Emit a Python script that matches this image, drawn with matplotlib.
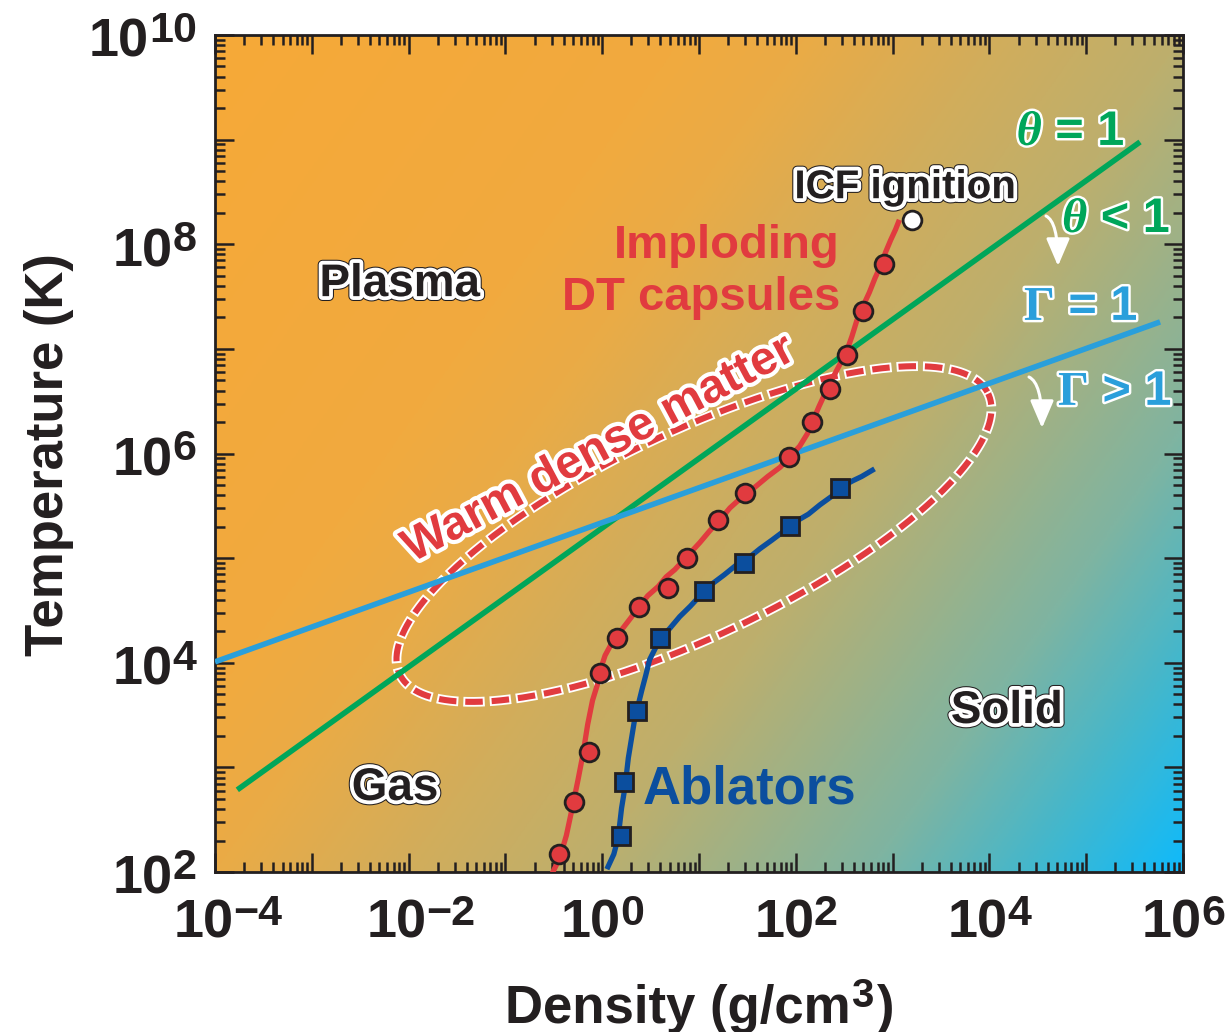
import numpy as np
import matplotlib
matplotlib.use("Agg")
import matplotlib.pyplot as plt
import matplotlib.patheffects as pe
from matplotlib.colors import LinearSegmentedColormap
from matplotlib.ticker import LogLocator, NullFormatter

plt.rcParams['font.family'] = ['Liberation Sans', 'DejaVu Sans']
plt.rcParams['font.weight'] = 'bold'
plt.rcParams['mathtext.fontset'] = 'custom'
plt.rcParams['mathtext.it'] = 'Liberation Serif:italic:bold'
plt.rcParams['mathtext.rm'] = 'Liberation Serif:bold'
plt.rcParams['lines.scale_dashes'] = False

INK = '#231F20'
RED = '#E13B3F'
GREEN = '#00A65A'
SKY = '#2A9FDB'
NAVY = '#0B4E9E'

# imploding DT capsule trajectory, log10(g/cm3) and log10(K)
dt_log_rho = [-0.51, -0.44, -0.37, -0.31, -0.25, -0.20, -0.15, -0.10, -0.05, -0.02,
              0.03, 0.10, 0.18, 0.28, 0.37, 0.47, 0.58, 0.66, 0.75, 0.82, 0.91,
              1.01, 1.11, 1.22, 1.32, 1.44, 1.58, 1.71, 1.84, 1.94, 2.04, 2.12,
              2.18, 2.24, 2.31, 2.38, 2.46, 2.53, 2.58, 2.63, 2.69, 2.76, 2.82,
              2.88, 2.93, 2.98, 3.03, 3.06]
dt_log_T = [2.00, 2.13, 2.35, 2.61, 2.88, 3.12, 3.41, 3.64, 3.79, 3.93,
            4.07, 4.19, 4.29, 4.41, 4.52, 4.64, 4.73, 4.82, 4.89, 4.96, 5.05,
            5.15, 5.26, 5.37, 5.48, 5.58, 5.68, 5.78, 5.87, 5.97, 6.07, 6.19,
            6.32, 6.45, 6.59, 6.72, 6.86, 6.99, 7.12, 7.27, 7.40, 7.54, 7.68,
            7.80, 7.93, 8.04, 8.14, 8.21]
dt_pts_log_rho = [-0.45, -0.29, -0.14, -0.02, 0.15, 0.38, 0.68, 0.88, 1.20, 1.48,
                  1.93, 2.17, 2.35, 2.53, 2.69, 2.91]
dt_pts_log_T = [2.17, 2.67, 3.15, 3.90, 4.24, 4.53, 4.71, 5.00, 5.36, 5.62,
                5.97, 6.30, 6.62, 6.94, 7.36, 7.81]
ignition_log = (3.20, 8.23)

# ablator trajectory
abl_log_rho = [0.06, 0.12, 0.16, 0.18, 0.20, 0.23, 0.25, 0.27, 0.30, 0.33, 0.37,
               0.41, 0.45, 0.49, 0.55, 0.62, 0.70, 0.80, 0.91, 1.01, 1.13, 1.26,
               1.38, 1.51, 1.63, 1.75, 1.88, 2.00, 2.13, 2.25, 2.37, 2.49, 2.59,
               2.68, 2.79]
abl_log_T = [2.05, 2.17, 2.31, 2.45, 2.61, 2.78, 2.93, 3.09, 3.26, 3.43, 3.59,
             3.74, 3.88, 4.03, 4.14, 4.25, 4.33, 4.44, 4.54, 4.64, 4.75, 4.84,
             4.93, 5.00, 5.09, 5.17, 5.26, 5.35, 5.42, 5.51, 5.59, 5.69, 5.74,
             5.78, 5.84]
abl_pts_log_rho = [0.19, 0.23, 0.36, 0.60, 1.05, 1.47, 1.94, 2.46]
abl_pts_log_T = [2.34, 2.86, 3.54, 4.24, 4.69, 4.95, 5.31, 5.67]

# degeneracy (theta = 1) and coupling (Gamma = 1) boundaries
theta_rho = [1.7e-4, 3.6e5]
theta_T = [6.1e2, 9.5e8]
gamma_rho = [1.0e-4, 5.8e5]
gamma_T = [1.02e4, 1.81e7]

x_label_exps = [-4, -2, 0, 2, 4, 6]
y_label_exps = [2, 4, 6, 8, 10]

W, H = 1229, 1032
fig = plt.figure(figsize=(W / 100, H / 100), dpi=100)
rect = [215 / W, (H - 872) / H, 968 / W, 837 / H]
AX_W, AX_H = 968.0, 837.0

# background colour wash
bg = fig.add_axes(rect, zorder=0)
yy, xx = np.mgrid[0:1:500j, 0:1:500j]
wash = 0.62 * xx + 0.38 * yy
cmap = LinearSegmentedColormap.from_list('wash', [
    (0.0, '#F6A938'), (0.30, '#F1AA3F'), (0.38, '#EAAB46'), (0.50, '#D2AD5B'),
    (0.62, '#BDAF6D'), (0.80, '#7FB4A1'), (0.90, '#45B7CB'), (1.0, '#10BAFA')])
bg.imshow(wash, cmap=cmap, vmin=0, vmax=1, extent=(0, 1, 0, 1), origin='upper',
          aspect='auto', interpolation='bilinear')
bg.axis('off')

ax = fig.add_axes(rect, zorder=1)
ax.patch.set_alpha(0)
ax.set_xscale('log')
ax.set_yscale('log')
ax.set_xlim(1e-4, 1e6)
ax.set_ylim(1e2, 1e10)

for axis in (ax.xaxis, ax.yaxis):
    axis.set_major_locator(LogLocator(base=10, numticks=30))
    axis.set_minor_locator(LogLocator(base=10, subs=np.arange(2, 10), numticks=300))
    axis.set_major_formatter(NullFormatter())
    axis.set_minor_formatter(NullFormatter())
ax.tick_params(which='both', direction='in', top=True, right=True, width=1.8, color=INK)
ax.tick_params(which='major', length=13.7)
ax.tick_params(which='minor', length=7.2)
for s in ax.spines.values():
    s.set_linewidth(2.0)
    s.set_color(INK)

# warm dense matter outline
t = np.linspace(0, 2 * np.pi, 400)
phi = np.deg2rad(25.5)
ex = 326 * np.cos(t) * np.cos(phi) - 102 * np.sin(t) * np.sin(phi)
ey = 326 * np.cos(t) * np.sin(phi) + 102 * np.sin(t) * np.cos(phi)
ox, oy = 0.4948 + ex / AX_W, 0.4038 + ey / AX_H
ax.plot(ox, oy, transform=ax.transAxes, color='white', lw=7.0,
        linestyle=(0, (15.4, 3.6)), zorder=2)
ax.plot(ox, oy, transform=ax.transAxes, color=RED, lw=4.4,
        linestyle=(-1.4, (12.6, 6.4)), zorder=2.1)

ax.plot(theta_rho, theta_T, color=GREEN, lw=4.0, solid_capstyle='butt', zorder=3)
ax.plot(gamma_rho, gamma_T, color=SKY, lw=4.0, solid_capstyle='butt', zorder=3)

ax.plot(10 ** np.array(dt_log_rho), 10 ** np.array(dt_log_T), color=RED, lw=3.8,
        solid_joinstyle='round', zorder=4)
ax.plot(10 ** np.array(dt_pts_log_rho), 10 ** np.array(dt_pts_log_T), 'o', ms=13.5,
        mfc=RED, mec=INK, mew=2.0, zorder=5)
ax.plot(10 ** ignition_log[0], 10 ** ignition_log[1], 'o', ms=13.5, mfc='white',
        mec=INK, mew=2.0, zorder=5)

ax.plot(10 ** np.array(abl_log_rho), 10 ** np.array(abl_log_T), color=NAVY, lw=3.8,
        solid_joinstyle='round', zorder=4)
ax.plot(10 ** np.array(abl_pts_log_rho), 10 ** np.array(abl_pts_log_T), 's', ms=12.5,
        mfc=NAVY, mec=INK, mew=2.0, zorder=5)

# region labels
boxed = [pe.Stroke(linewidth=7.0, foreground=INK), pe.Stroke(linewidth=5.5, foreground='white'),
         pe.Normal()]
for txt, fx, fy, size in [('Plasma', 0.191, 0.688, 33), ('Gas', 0.186, 0.086, 33),
                          ('Solid', 0.818, 0.178, 33), ('ICF ignition', 0.7128, 0.805, 29)]:
    ax.text(fx, fy, txt, transform=ax.transAxes, ha='center', va='baseline',
            fontsize=size, color=INK, path_effects=boxed, zorder=6)

ax.text(0.6457, 0.7336, 'Imploding', transform=ax.transAxes, ha='right', va='baseline',
        fontsize=34, color=RED, zorder=6)
ax.text(0.6457, 0.6714, 'DT capsules', transform=ax.transAxes, ha='right', va='baseline',
        fontsize=34, color=RED, zorder=6)
ax.text(0.5517, 0.0824, 'Ablators', transform=ax.transAxes, ha='center', va='baseline',
        fontsize=38, color=NAVY, zorder=6)
ax.text(0.403, 0.492, 'Warm dense matter', transform=ax.transAxes, ha='center',
        va='baseline', rotation=28, rotation_mode='anchor', fontsize=34, color=RED,
        path_effects=[pe.withStroke(linewidth=6, foreground='white')], zorder=6)

halo = [pe.withStroke(linewidth=3.5, foreground='white')]
for txt, fx, fy, c in [(r'$\theta$ = 1', 0.884, 0.8686, GREEN),
                       (r'$\theta$ < 1', 0.931, 0.7646, GREEN),
                       (r'$\Gamma$ = 1', 0.8946, 0.6595, SKY),
                       (r'$\Gamma$ > 1', 0.9298, 0.558, SKY)]:
    ax.text(fx, fy, txt, transform=ax.transAxes, ha='center', va='baseline',
            fontsize=35, color=c, path_effects=halo, zorder=6)

# curved arrows pointing into the degenerate / strongly coupled side
for (x0, y0), (x1, y1) in [((1046, 216), (1058, 266)), ((1029, 377), (1042, 428))]:
    ax.annotate('', xy=((x1 - 215) / AX_W, (872 - y1) / AX_H),
                xytext=((x0 - 215) / AX_W, (872 - y0) / AX_H),
                xycoords='axes fraction', textcoords='axes fraction',
                arrowprops=dict(arrowstyle='-|>,head_length=0.7,head_width=0.3',
                                connectionstyle='angle3,angleA=-25,angleB=90',
                                color='white', lw=2.2, mutation_scale=24,
                                shrinkA=0, shrinkB=0),
                zorder=6)

# tick labels as 10 with a raised exponent
big = dict(fontsize=39, color=INK, annotation_clip=False)
small = dict(fontsize=31, color=INK, annotation_clip=False)
for k in x_label_exps:
    xy = (10.0 ** k, 0)
    ax.annotate('10', xy=xy, xycoords=('data', 'axes fraction'), xytext=(13.4, -47.5),
                textcoords='offset points', ha='right', va='baseline', **big)
    ax.annotate(str(k).replace('-', '\u2212'), xy=xy, xycoords=('data', 'axes fraction'),
                xytext=(13.0, -38), textcoords='offset points', ha='left',
                va='baseline', **small)
for k in y_label_exps:
    xy = (0, 10.0 ** k)
    e = str(k)
    ax.annotate(e, xy=xy, xycoords=('axes fraction', 'data'), xytext=(-13.2, -5),
                textcoords='offset points', ha='right', va='baseline', **small)
    ax.annotate('10', xy=xy, xycoords=('axes fraction', 'data'),
                xytext=(-13.2 - 0.556 * 31 * len(e), -15.8), textcoords='offset points',
                ha='right', va='baseline', **big)

# axis titles
q = (851 - 215) / AX_W
ax.annotate('Density (g/cm', xy=(q, 0), xycoords='axes fraction', xytext=(0, -108.7),
            textcoords='offset points', ha='right', va='baseline', fontsize=38,
            color=INK, annotation_clip=False)
ax.annotate('3', xy=(q, 0), xycoords='axes fraction', xytext=(0, -97),
            textcoords='offset points', ha='left', va='baseline', fontsize=29,
            color=INK, annotation_clip=False)
ax.annotate(')', xy=(q, 0), xycoords='axes fraction', xytext=(18.5, -108.7),
            textcoords='offset points', ha='left', va='baseline', fontsize=38,
            color=INK, annotation_clip=False)
fig.text(63 / W, 1 - 455 / H, 'Temperature (K)', rotation=90, rotation_mode='anchor',
         ha='center', va='baseline', fontsize=38, color=INK)

fig.savefig('out.png', dpi=100)
